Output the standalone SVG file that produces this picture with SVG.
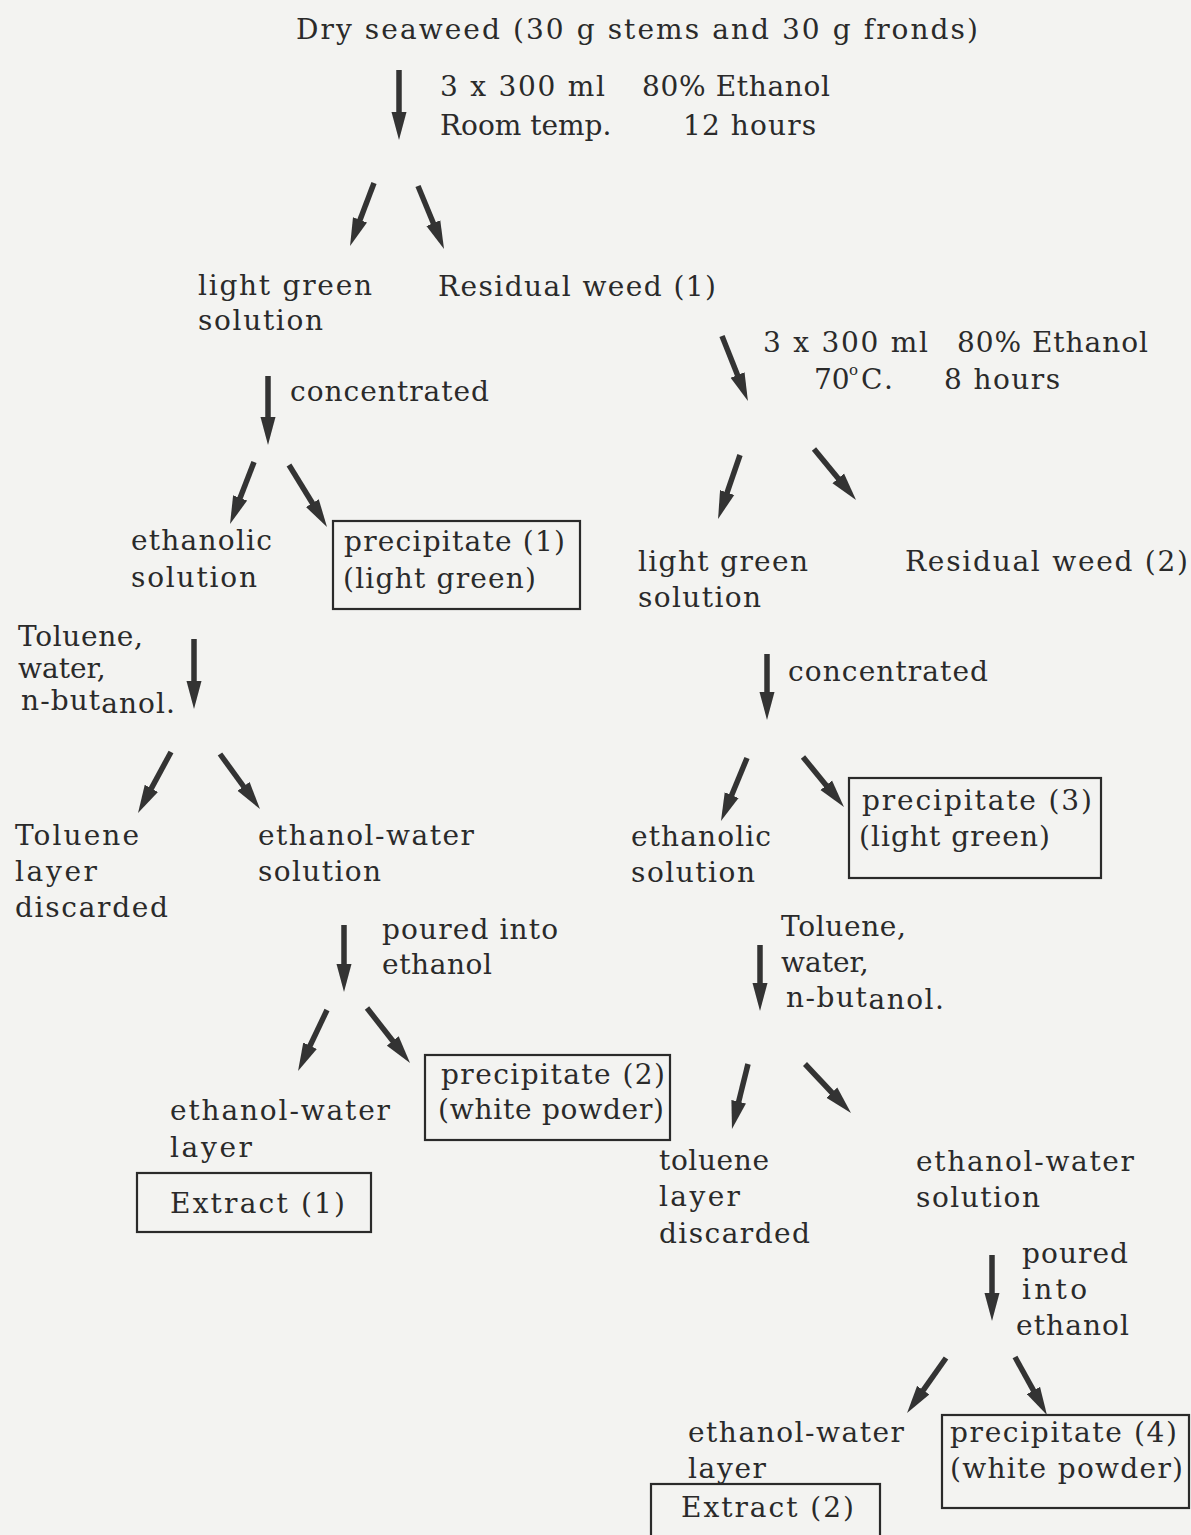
<svg xmlns="http://www.w3.org/2000/svg" width="1191" height="1535" viewBox="0 0 1191 1535">
  <style>
    text { font-family: "DejaVu Serif", "Liberation Serif", serif; font-size: 28px; fill: #2a2a2a; }
    .sup { font-size: 15px; }
    .box { fill: none; stroke: #2a2a2a; stroke-width: 2.2; }
    .arrow { stroke: #333; stroke-width: 5.5; fill: none; marker-end: url(#head); }
  </style>
  <defs>
    <marker id="head" markerUnits="userSpaceOnUse" markerWidth="30" markerHeight="16" refX="2" refY="7.5" orient="auto" viewBox="0 0 30 15">
      <path d="M0,0 L28,7.5 L0,15 z" fill="#333"/>
    </marker>
  </defs>
  <rect width="1191" height="1535" fill="#f3f3f1"/>

  <!-- connectors: shaft runs to the head base, head drawn by the marker -->
  <g id="connectors">
    <line class="arrow" x1="399" y1="70" x2="399" y2="114"/>
    <line class="arrow" x1="374" y1="183" x2="359.3" y2="221.7"/>
    <line class="arrow" x1="418" y1="186" x2="434.1" y2="225"/>
    <line class="arrow" x1="722" y1="336" x2="738.3" y2="376.9"/>
    <line class="arrow" x1="268" y1="376" x2="268" y2="419"/>
    <line class="arrow" x1="254" y1="462" x2="239.4" y2="499.8"/>
    <line class="arrow" x1="289" y1="465" x2="313.4" y2="504.8"/>
    <line class="arrow" x1="740" y1="455" x2="726.5" y2="494.4"/>
    <line class="arrow" x1="814" y1="449" x2="839.5" y2="479.9"/>
    <line class="arrow" x1="194" y1="639" x2="194" y2="683"/>
    <line class="arrow" x1="767" y1="654" x2="767" y2="694"/>
    <line class="arrow" x1="171" y1="752" x2="150.4" y2="790.1"/>
    <line class="arrow" x1="220" y1="754" x2="244.7" y2="788"/>
    <line class="arrow" x1="747" y1="758" x2="730.9" y2="797"/>
    <line class="arrow" x1="803" y1="757" x2="827.5" y2="786.9"/>
    <line class="arrow" x1="344" y1="925" x2="344" y2="966"/>
    <line class="arrow" x1="760" y1="945" x2="760" y2="985"/>
    <line class="arrow" x1="327" y1="1010" x2="309.2" y2="1047.5"/>
    <line class="arrow" x1="367" y1="1008" x2="394" y2="1042.5"/>
    <line class="arrow" x1="748" y1="1064" x2="738.2" y2="1103.7"/>
    <line class="arrow" x1="805" y1="1064" x2="833.2" y2="1094"/>
    <line class="arrow" x1="992" y1="1255" x2="992" y2="1295"/>
    <line class="arrow" x1="946" y1="1358" x2="922.1" y2="1391.8"/>
    <line class="arrow" x1="1015" y1="1357" x2="1034.4" y2="1392.2"/>
  </g>

  <!-- step conditions -->
  <g id="cond-room-temp">
    <text x="440" y="96" textLength="165" lengthAdjust="spacing">3 x 300 ml</text>
    <text x="642" y="96" textLength="188" lengthAdjust="spacing">80% Ethanol</text>
    <text x="440" y="135">Room temp.</text>
    <text x="683" y="135" textLength="133" lengthAdjust="spacing">12 hours</text>
  </g>
  <g id="cond-70c">
    <text x="763" y="352" textLength="165" lengthAdjust="spacing">3 x 300 ml</text>
    <text x="957" y="352" textLength="191" lengthAdjust="spacing">80% Ethanol</text>
    <text x="814" y="389">70</text>
    <text class="sup" x="849" y="375">o</text>
    <text x="861" y="389" textLength="32" lengthAdjust="spacing">C.</text>
    <text x="944" y="389" textLength="116" lengthAdjust="spacing">8 hours</text>
  </g>
  <g id="cond-concentrated-1"><text x="290" y="401" textLength="199" lengthAdjust="spacing">concentrated</text></g>
  <g id="cond-concentrated-2"><text x="788" y="681" textLength="200" lengthAdjust="spacing">concentrated</text></g>
  <g id="cond-solvents-1">
    <text x="18" y="646" textLength="125" lengthAdjust="spacing">Toluene,</text>
    <text x="18" y="678">water,</text>
    <text x="21" y="710" textLength="154" lengthAdjust="spacing">n-but<tspan dy="3">anol.</tspan></text>
  </g>
  <g id="cond-solvents-2">
    <text x="781" y="936" textLength="125" lengthAdjust="spacing">Toluene,</text>
    <text x="781" y="972">water,</text>
    <text x="786" y="1007" textLength="158" lengthAdjust="spacing">n-but<tspan dy="2">anol.</tspan></text>
  </g>
  <g id="cond-poured-1">
    <text x="382" y="939" textLength="176" lengthAdjust="spacing">poured into</text>
    <text x="382" y="974" textLength="110" lengthAdjust="spacing">ethanol</text>
  </g>
  <g id="cond-poured-2">
    <text x="1022" y="1263" textLength="106" lengthAdjust="spacing">poured</text>
    <text x="1022" y="1299" textLength="65" lengthAdjust="spacing">into</text>
    <text x="1016" y="1335" textLength="113" lengthAdjust="spacing">ethanol</text>
  </g>

  <!-- nodes -->
  <g id="dry-seaweed"><text x="296" y="39" textLength="682" lengthAdjust="spacing">Dry seaweed (30 g stems and 30 g fronds)</text></g>
  <g id="light-green-solution-1">
    <text x="198" y="295" textLength="174" lengthAdjust="spacing">light green</text>
    <text x="198" y="330" textLength="125" lengthAdjust="spacing">solution</text>
  </g>
  <g id="residual-weed-1"><text x="438" y="296" textLength="278" lengthAdjust="spacing">Residual weed (1)</text></g>
  <g id="ethanolic-solution-1">
    <text x="131" y="550" textLength="141" lengthAdjust="spacing">ethanolic</text>
    <text x="131" y="587" textLength="126" lengthAdjust="spacing">solution</text>
  </g>
  <g id="precipitate-1">
    <rect class="box" x="333" y="521" width="247" height="88"/>
    <text x="344" y="551" textLength="221" lengthAdjust="spacing">precipitate (1)</text>
    <text x="343" y="588" textLength="193" lengthAdjust="spacing">(light green)</text>
  </g>
  <g id="light-green-solution-2">
    <text x="638" y="571" textLength="170" lengthAdjust="spacing">light green</text>
    <text x="638" y="607" textLength="123" lengthAdjust="spacing">solution</text>
  </g>
  <g id="residual-weed-2"><text x="905" y="571" textLength="283" lengthAdjust="spacing">Residual weed (2)</text></g>
  <g id="toluene-layer-1">
    <text x="15" y="845" textLength="124" lengthAdjust="spacing">Toluene</text>
    <text x="15" y="881" textLength="82" lengthAdjust="spacing">layer</text>
    <text x="15" y="917" textLength="153" lengthAdjust="spacing">discarded</text>
  </g>
  <g id="ethanol-water-solution-1">
    <text x="258" y="845" textLength="216" lengthAdjust="spacing">ethanol-water</text>
    <text x="258" y="881" textLength="123" lengthAdjust="spacing">solution</text>
  </g>
  <g id="ethanolic-solution-2">
    <text x="631" y="846" textLength="140" lengthAdjust="spacing">ethanolic</text>
    <text x="631" y="882" textLength="124" lengthAdjust="spacing">solution</text>
  </g>
  <g id="precipitate-3">
    <rect class="box" x="849" y="778" width="252" height="100"/>
    <text x="862" y="810" textLength="230" lengthAdjust="spacing">precipitate (3)</text>
    <text x="859" y="846" textLength="191" lengthAdjust="spacing">(light green)</text>
  </g>
  <g id="precipitate-2">
    <rect class="box" x="425" y="1055" width="245" height="85"/>
    <text x="441" y="1084" textLength="224" lengthAdjust="spacing">precipitate (2)</text>
    <text x="438" y="1119" textLength="226" lengthAdjust="spacing">(white powder)</text>
  </g>
  <g id="ethanol-water-layer-1">
    <text x="170" y="1120" textLength="220" lengthAdjust="spacing">ethanol-water</text>
    <text x="170" y="1157" textLength="82" lengthAdjust="spacing">layer</text>
  </g>
  <g id="extract-1">
    <rect class="box" x="137" y="1173" width="234" height="59"/>
    <text x="170" y="1213" textLength="175" lengthAdjust="spacing">Extract (1)</text>
  </g>
  <g id="toluene-layer-2">
    <text x="659" y="1170" textLength="110" lengthAdjust="spacing">toluene</text>
    <text x="659" y="1206" textLength="81" lengthAdjust="spacing">layer</text>
    <text x="659" y="1243" textLength="151" lengthAdjust="spacing">discarded</text>
  </g>
  <g id="ethanol-water-solution-2">
    <text x="916" y="1171" textLength="218" lengthAdjust="spacing">ethanol-water</text>
    <text x="916" y="1207" textLength="124" lengthAdjust="spacing">solution</text>
  </g>
  <g id="ethanol-water-layer-2">
    <text x="688" y="1442" textLength="216" lengthAdjust="spacing">ethanol-water</text>
    <text x="688" y="1478" textLength="78" lengthAdjust="spacing">layer</text>
  </g>
  <g id="precipitate-4">
    <rect class="box" x="942" y="1415" width="247" height="93"/>
    <text x="950" y="1442" textLength="227" lengthAdjust="spacing">precipitate (4)</text>
    <text x="950" y="1478" textLength="233" lengthAdjust="spacing">(white powder)</text>
  </g>
  <g id="extract-2">
    <rect class="box" x="651" y="1484" width="229" height="70"/>
    <text x="681" y="1517" textLength="173" lengthAdjust="spacing">Extract (2)</text>
  </g>
</svg>
